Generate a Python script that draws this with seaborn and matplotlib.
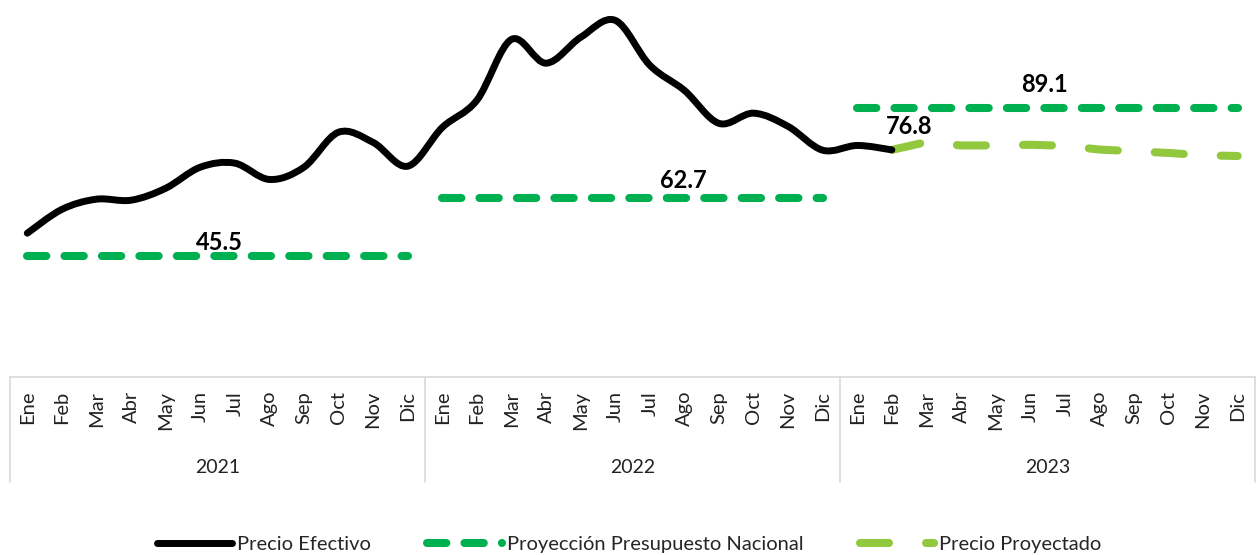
import numpy as np
import pandas as pd
import seaborn as sns
import matplotlib.pyplot as plt
from matplotlib.path import Path
from matplotlib.patches import PathPatch
from matplotlib.lines import Line2D
import matplotlib.transforms as mtransforms

# datos
months = ["Ene", "Feb", "Mar", "Abr", "May", "Jun", "Jul", "Ago", "Sep", "Oct", "Nov", "Dic"]
years = ["2021", "2022", "2023"]
precio_efectivo = [52.3, 59.3, 62.3, 62.0, 65.5, 71.7, 72.9, 68.1, 71.7, 82.0, 79.0, 72.0,
                   83.4, 91.4, 109.3, 102.3, 109.9, 114.9, 101.7, 94.3, 84.6, 87.6, 83.7, 76.7,
                   78.1, 76.8]
presupuesto = [45.5, 62.7, 89.1]
precio_proyectado = [76.8, 79.1, 78.1, 78.1, 78.3, 78.0, 76.9, 76.4, 75.9, 75.2, 75.0]  # Feb-Dic 2023

n = len(months) * len(years)
efectivo_df = pd.DataFrame({"idx": np.arange(len(precio_efectivo)), "valor": precio_efectivo})
proy_df = pd.DataFrame({"idx": np.arange(n - len(precio_proyectado), n), "valor": precio_proyectado})
pres_df = pd.DataFrame({
    "idx": np.arange(n),
    "valor": np.repeat(presupuesto, 12),
    "anio": np.repeat(years, 12),
})

sns.set_theme(style="white")
plt.rcParams["font.family"] = ["Lato", "DejaVu Sans"]

BLACK = "#000000"
GREEN = "#00B050"
LGREEN = "#92C83E"

fig = plt.figure(figsize=(12.59, 5.55), dpi=100)
ax = fig.add_axes([10 / 1259, 178 / 555, 1245 / 1259, 374 / 555])

# presupuesto: un tramo por año
for y in years:
    sns.lineplot(data=pres_df[pres_df["anio"] == y], x="idx", y="valor", ax=ax,
                 color=GREEN, lw=5.8, linestyle=(0, (2.4, 2.25)),
                 dash_capstyle="round", legend=False)

# precio proyectado
sns.lineplot(data=proy_df, x="idx", y="valor", ax=ax, color=LGREEN, lw=5.8,
             linestyle=(0, (3.6, 4.6)), dash_capstyle="round", legend=False)

# precio efectivo (linea suavizada como en Excel)
sns.lineplot(data=efectivo_df, x="idx", y="valor", ax=ax, color=BLACK, lw=5, legend=False)
line = ax.lines[-1]
xs, ys = [np.asarray(a, dtype=float) for a in line.get_data()]
pts = np.column_stack([xs, ys])
verts = [pts[0]]
codes = [Path.MOVETO]
for i in range(len(pts) - 1):
    p0 = pts[max(i - 1, 0)]
    p1 = pts[i]
    p2 = pts[i + 1]
    p3 = pts[min(i + 2, len(pts) - 1)]
    verts += [p1 + (p2 - p0) / 6, p2 - (p3 - p1) / 6, p2]
    codes += [Path.CURVE4] * 3
line.set_visible(False)
ax.add_patch(PathPatch(Path(verts, codes), fill=False, edgecolor=BLACK, lw=5,
                       capstyle="round", joinstyle="round", zorder=3))

ax.set_xlim(-0.5, n - 0.5)
ax.set_ylim(10, 120)

# etiquetas de datos
lbl = dict(fontsize=17, fontweight="bold", ha="center", va="center", color="black")
ax.text(5.55, presupuesto[0] + 4.1, f"{presupuesto[0]}", **lbl)
ax.text(18.96, presupuesto[1] + 5.0, f"{presupuesto[1]}", **lbl)
ax.text(29.4, presupuesto[2] + 7.0, f"{presupuesto[2]}", **lbl)
ax.text(25.5, precio_proyectado[0] + 7.0, f"{precio_proyectado[0]}", **lbl)

# eje x de dos niveles
ax.set_xticks(np.arange(n))
ax.set_xticklabels(months * len(years), rotation=90, fontsize=14.5)
ax.tick_params(axis="x", length=0, pad=10, colors="#222222")
ax.set_yticks([])
ax.set_xlabel("")
ax.set_ylabel("")
for s in ["top", "left", "right"]:
    ax.spines[s].set_visible(False)
ax.spines["bottom"].set_color("#D9D9D9")
ax.spines["bottom"].set_linewidth(1.2)

trans = mtransforms.blended_transform_factory(ax.transData, ax.transAxes)
for k in range(len(years) + 1):
    ax.add_line(Line2D([k * 12 - 0.5] * 2, [0, -0.281], transform=trans,
                       color="#D9D9D9", lw=1.2, clip_on=False))
for k, y in enumerate(years):
    ax.text(k * 12 + 5.5, -0.241, y, transform=trans, ha="center", va="center",
            fontsize=14, color="#222222")

# leyenda
handles = [
    Line2D([], [], color=BLACK, lw=5, solid_capstyle="round"),
    Line2D([], [], color=GREEN, lw=5.8, linestyle=(0, (2.4, 2.25)), dash_capstyle="round"),
    Line2D([], [], color=LGREEN, lw=5.8, linestyle=(0, (3.6, 4.6)), dash_capstyle="round"),
]
labels = ["Precio Efectivo", "Proyección Presupuesto Nacional", "Precio Proyectado"]
fig.legend(handles, labels, loc="center", bbox_to_anchor=(0.5, 11 / 555), ncol=3,
           frameon=False, fontsize=14.5, handlelength=3.7, handletextpad=0.25,
           columnspacing=2.8)

fig.savefig("out.png", dpi=100)
